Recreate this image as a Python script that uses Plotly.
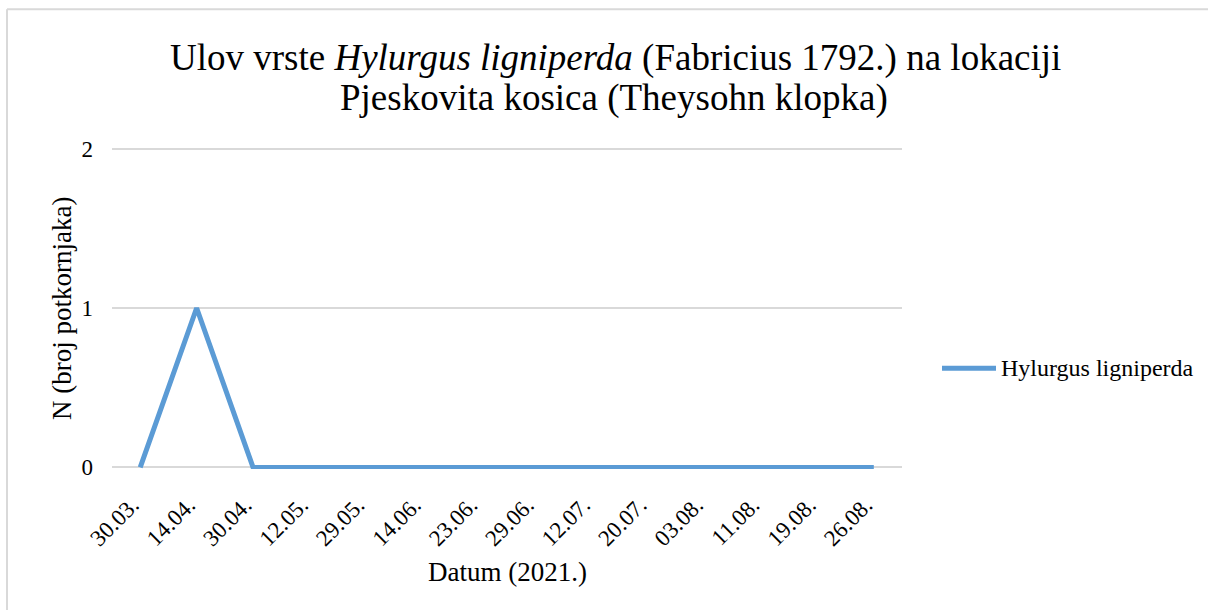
import plotly.graph_objects as go

dates = ["30.03.", "14.04.", "30.04.", "12.05.", "29.05.", "14.06.", "23.06.",
         "29.06.", "12.07.", "20.07.", "03.08.", "11.08.", "19.08.", "26.08."]
series_name = "Hylurgus ligniperda"
hylurgus = [0, 1, 0, 0, 0, 0, 0, 0, 0, 0, 0, 0, 0, 0]
y_ticks = [0, 1, 2]
title_line1 = "Ulov vrste <i>Hylurgus ligniperda</i> (Fabricius 1792.) na lokaciji"
title_line2 = "Pjeskovita kosica (Theysohn klopka)"

FONT = "Liberation Serif, Times New Roman, serif"
W, H = 1208, 610
L, R = 112, 902
Y0, Y2 = 467, 149
PAD = 0.01
ppu = (Y0 - Y2) / 2.0
T = Y2 - PAD * ppu
B = Y0 + PAD * ppu

LINE_COLOR = "#5b9bd5"
GRID = "#d9d9d9"

fig = go.Figure()
fig.add_trace(go.Scatter(
    x=list(range(len(dates))), y=hylurgus, mode="lines",
    name=series_name, showlegend=False,
    line=dict(color=LINE_COLOR, width=5),
))

def px_x(p):
    return (p - L) / (R - L)

def px_y(p):
    return (B - p) / (B - T)

fig.update_layout(
    width=W, height=H,
    margin=dict(l=L, r=W - R, t=T, b=H - B, pad=0),
    paper_bgcolor="white", plot_bgcolor="white",
    font=dict(family=FONT, color="#000000", size=23),
    showlegend=False,
    xaxis=dict(
        tickmode="array", tickvals=list(range(len(dates))),
        ticktext=[d + "\u00a0\u00a0" for d in dates],
        range=[-0.5, len(dates) - 0.5], tickangle=-45,
        showgrid=False, zeroline=False, showline=False, ticks="",
        tickfont=dict(family=FONT, size=23), ticklabelstandoff=9,
    ),
    yaxis=dict(
        range=[-PAD, 2 + PAD], tickvals=y_ticks, showgrid=True, gridcolor=GRID,
        gridwidth=1.5, zeroline=False, showline=False, ticks="",
        tickfont=dict(family=FONT, size=23), ticklabelstandoff=18,
    ),
    annotations=[
        dict(text=title_line1, xref="paper", yref="paper",
             x=px_x(615), y=px_y(59), xanchor="center", yanchor="middle",
             showarrow=False, font=dict(family=FONT, size=37)),
        dict(text=title_line2, xref="paper", yref="paper",
             x=px_x(614), y=px_y(99), xanchor="center", yanchor="middle",
             showarrow=False, font=dict(family=FONT, size=37)),
        dict(text="Datum (2021.)", xref="paper", yref="paper",
             x=px_x(507), y=px_y(571), xanchor="center", yanchor="middle",
             showarrow=False, font=dict(family=FONT, size=27)),
        dict(text="N (broj potkornjaka)", xref="paper", yref="paper",
             x=px_x(62), y=px_y(309), xanchor="center", yanchor="middle",
             textangle=-90, showarrow=False, font=dict(family=FONT, size=27)),
        dict(text=series_name, xref="paper", yref="paper",
             x=px_x(999), y=px_y(368), xanchor="left", yanchor="middle",
             showarrow=False, font=dict(family=FONT, size=24)),
    ],
    shapes=[
        dict(type="line", xref="paper", yref="paper",
             x0=px_x(942), x1=px_x(996), y0=px_y(368), y1=px_y(368),
             line=dict(color=LINE_COLOR, width=5)),
        dict(type="line", xref="paper", yref="paper",
             x0=px_x(7), x1=px_x(1212), y0=px_y(10), y1=px_y(10),
             line=dict(color=GRID, width=2)),
        dict(type="line", xref="paper", yref="paper",
             x0=px_x(7), x1=px_x(7), y0=px_y(10), y1=px_y(614),
             line=dict(color=GRID, width=2)),
    ],
)

fig.write_html("out.html", config={"displayModeBar": False},
               post_script="document.body.style.margin='0px';")
